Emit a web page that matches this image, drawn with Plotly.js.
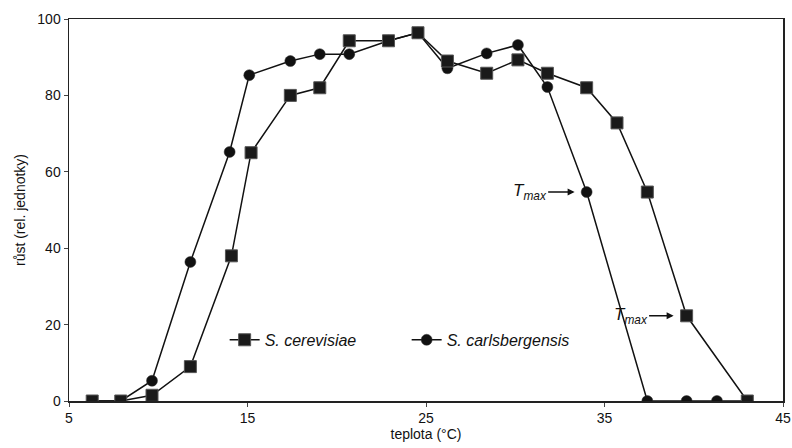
<!DOCTYPE html>
<html><head><meta charset="utf-8">
<script src="https://cdn.plot.ly/plotly-3.0.1.min.js"></script>
<style>html,body{margin:0;padding:0;background:#fff}#chart{width:792px;height:448px}</style>
</head><body><div id="chart"></div>
<script>
const cerevisiaeT = [6.3, 7.9, 9.65, 11.8, 14.1, 15.2, 17.4, 19.05, 20.7, 22.9, 24.55, 26.2, 28.4, 30.15, 31.8, 34.0, 35.7, 37.4, 39.6, 43.0];
const cerevisiaeG = [0, 0, 1.5, 9, 38, 65, 80, 82, 94.3, 94.3, 96.4, 89, 85.8, 89.3, 85.8, 82, 72.8, 54.7, 22.3, 0];
const carlsbergensisT = [6.3, 7.9, 9.65, 11.8, 14.0, 15.1, 17.4, 19.05, 20.7, 22.9, 24.55, 26.2, 28.4, 30.15, 31.8, 34.0, 37.4, 39.6, 41.3, 43.0];
const carlsbergensisG = [0, 0, 5.3, 36.4, 65.2, 85.3, 89, 90.8, 90.8, 94.3, 96.4, 87.1, 91, 93.2, 82.2, 54.7, 0, 0, 0, 0];
const xTicks = [5, 15, 25, 35, 45];
const yTicks = [0, 20, 40, 60, 80, 100];
const tmaxPoints = [{x: 34.0, y: 54.7, ax: -57, standoff: 12}, {x: 39.6, y: 22.3, ax: -56, standoff: 13}];

const font = {family: 'Liberation Sans, Arial, sans-serif', color: '#111', size: 14};
const traces = [
  {x: carlsbergensisT, y: carlsbergensisG, name: '<i>S. carlsbergensis</i>', mode: 'lines+markers',
   line: {color: '#111', width: 1.5},
   marker: {symbol: 'circle', size: 11, color: '#111', line: {color: '#333', width: 0.5}}},
  {x: cerevisiaeT, y: cerevisiaeG, name: '<i>S. cerevisiae</i>', mode: 'lines+markers',
   line: {color: '#111', width: 1.5},
   marker: {symbol: 'square', size: 12, color: '#1a1a1a', line: {color: '#555', width: 1}}}
];
const layout = {
  width: 792, height: 448,
  margin: {l: 69, r: 9, t: 19, b: 47},
  paper_bgcolor: '#fff', plot_bgcolor: '#fff',
  font: font,
  showlegend: true,
  legend: {orientation: 'h', x: 0.218, y: 0.16, xanchor: 'left', yanchor: 'middle',
           traceorder: 'reversed', entrywidth: 137, entrywidthmode: 'pixels',
           font: {family: font.family, size: 16, color: '#111'}, bgcolor: 'rgba(0,0,0,0)'},
  xaxis: {range: [5, 45], tickvals: xTicks, ticktext: xTicks.map(String),
          ticklabeloverflow: 'allow',
          showgrid: false, zeroline: false, showline: true, linecolor: '#222', linewidth: 1.5,
          mirror: true, ticks: 'outside', ticklen: 4, tickcolor: '#444',
          title: {text: 'teplota (°C)', standoff: 4, font: {size: 14}}},
  yaxis: {range: [0, 100], tickvals: yTicks, showgrid: false, zeroline: false,
          showline: true, linecolor: '#222', linewidth: 1.5, mirror: true,
          ticks: 'outside', ticklen: 4, tickcolor: '#444',
          title: {text: 'růst (rel. jednotky)', standoff: 8, font: {size: 14}}},
  annotations: tmaxPoints.map(p => ({
    x: p.x, y: p.y, xref: 'x', yref: 'y', ax: p.ax, ay: 0,
    text: '<i>T<sub>max</sub></i>', showarrow: true, arrowhead: 2, arrowsize: 1,
    arrowwidth: 1.4, arrowcolor: '#111', standoff: p.standoff,
    font: {family: font.family, size: 17, color: '#111'}
  }))
};
Plotly.newPlot('chart', traces, layout, {displayModeBar: false, staticPlot: true});
</script></body></html>
